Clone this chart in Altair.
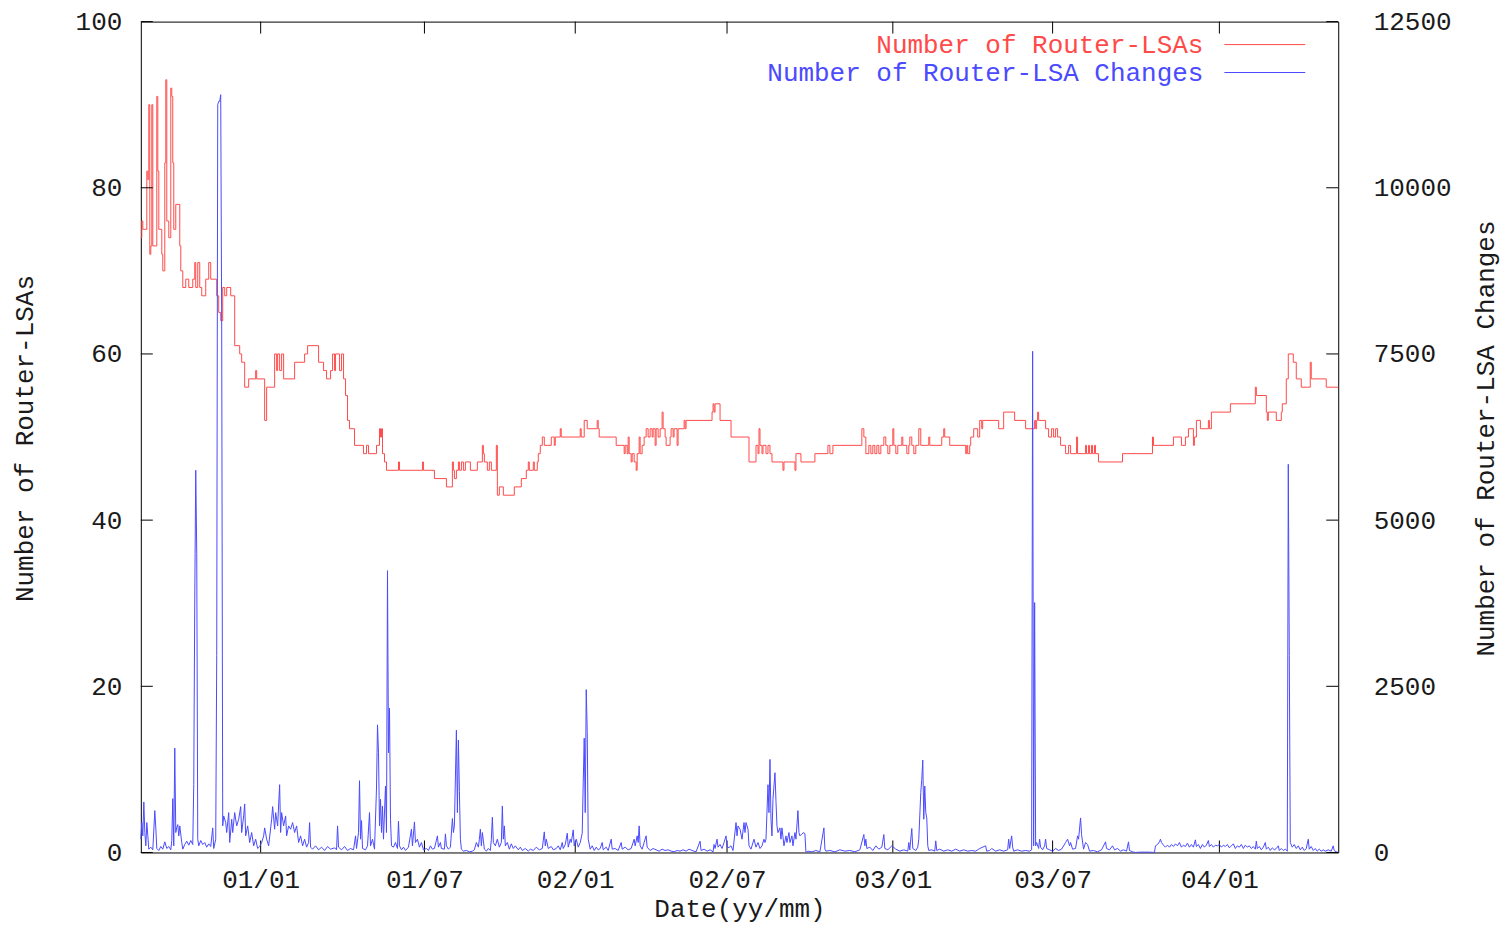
import altair as alt
import pandas as pd

# ---- x axis: sample index over the observation period, with month ticks ----
x_tick_pos = [120, 284, 435, 587, 753, 913, 1080]
x_tick_lab = ["01/01", "01/07", "02/01", "02/07", "03/01", "03/07", "04/01"]
x_max = 1199

y_left_ticks = [0, 20, 40, 60, 80, 100]
y_right_ticks = [0, 2500, 5000, 7500, 10000, 12500]

legend_labels = ["Number of Router-LSAs", "Number of Router-LSA Changes"]

# ---- Number of Router-LSAs (left axis), change points of a step series ----
red_x = [0, 1, 2, 5, 6, 7, 8, 9, 10, 11, 12, 15, 16, 17, 18, 21, 22, 24, 25, 26, 28, 30, 31, 32, 33, 35,
         39, 40, 42, 45, 48, 52, 54, 55, 57, 59, 61, 65, 68, 70, 76, 78, 80, 82, 84, 86, 90, 94, 99, 101,
         104, 108, 115, 116, 124, 126, 134, 136, 137, 139, 141, 143, 154, 164, 167, 178, 183, 186, 190,
         192, 194, 195, 199, 201, 203, 205, 207, 209, 214, 223, 226, 228, 236, 239, 240, 241, 242, 244,
         246, 258, 259, 282, 283, 294, 306, 312, 313, 314, 316, 318, 319, 321, 323, 325, 330, 337, 342,
         343, 344, 347, 349, 351, 356, 357, 359, 363, 374, 381, 386, 388, 389, 393, 394, 397, 398, 400,
         402, 404, 411, 414, 415, 420, 421, 440, 441, 444, 447, 457, 458, 459, 476, 484, 485, 487, 488,
         489, 491, 492, 494, 496, 497, 499, 500, 502, 504, 506, 508, 510, 512, 513, 515, 516, 518, 520,
         522, 523, 525, 526, 530, 531, 533, 534, 537, 538, 544, 545, 546, 572, 573, 574, 575, 580, 591,
         609, 616, 618, 619, 620, 622, 623, 626, 628, 630, 632, 643, 644, 655, 656, 661, 675, 688, 690,
         693, 722, 724, 726, 729, 731, 733, 735, 737, 739, 741, 744, 746, 748, 750, 753, 754, 756, 758,
         762, 763, 767, 769, 770, 772, 774, 776, 779, 781, 789, 790, 802, 804, 805, 810, 826, 827, 828,
         830, 831, 834, 838, 840, 842, 843, 859, 864, 875, 886, 895, 896, 897, 898, 899, 906, 909, 912,
         914, 916, 918, 921, 926, 929, 931, 937, 938, 946, 947, 949, 950, 952, 953, 955, 956, 959, 983,
         1013, 1014, 1034, 1042, 1046, 1049, 1054, 1055, 1057, 1061, 1069, 1070, 1072, 1091, 1116, 1117,
         1127, 1128, 1129, 1137, 1142, 1143, 1147, 1149, 1154, 1157, 1162, 1171, 1172, 1187, 1199]
red_v = [74, 76, 75, 75, 82, 81, 90, 72, 73, 90, 73, 73, 91, 82, 75, 72, 70, 83, 93, 76, 74, 92, 91, 83, 75, 78,
         73, 70, 68, 69, 68, 69, 71, 68, 71, 68, 67, 69, 71, 69, 67, 65, 64, 68, 67, 68, 67, 61, 60, 59,
         56, 57, 58, 57, 52, 56, 60, 58, 60, 58, 60, 57, 59, 60, 61, 59, 58, 57, 58,
         60, 58, 60, 58, 60, 57, 55, 52, 51, 49, 48, 49, 48, 49, 51, 50, 51, 48, 47,
         46, 47, 46, 47, 46, 45, 44, 47, 46, 45, 46, 47, 46, 47, 46, 47, 46, 47, 49,
         48, 47, 46, 47, 46, 49, 43, 44, 43, 44, 45, 46, 47, 46, 47, 46, 47, 48, 49,
         50, 49, 50, 49, 50, 51, 50, 51, 50, 52, 51, 52, 51, 50, 49, 48, 49, 48, 50,
         48, 47, 48, 47, 46, 48, 50, 48, 49, 50, 51, 50, 51, 50, 51, 49, 51, 50, 51,
         53, 51, 50, 49, 50, 51, 50, 51, 49, 51, 52, 51, 52, 53, 54, 53, 54, 52, 50,
         47, 49, 48, 51, 49, 48, 49, 48, 49, 48, 47, 46, 47, 46, 48, 47, 48, 49, 48,
         49, 51, 50, 48, 49, 48, 49, 48, 49, 48, 49, 50, 49, 48, 49, 51, 49, 48, 49,
         50, 49, 48, 49, 50, 49, 48, 49, 51, 49, 50, 49, 50, 51, 50, 49, 48, 49, 48,
         49, 50, 51, 50, 52, 51, 52, 51, 53, 52, 51, 52, 51, 52, 53, 52, 51, 50, 51,
         50, 51, 50, 49, 48, 49, 48, 50, 48, 49, 48, 49, 48, 49, 48, 49, 48, 47, 48,
         50, 49, 50, 49, 50, 51, 49, 50, 52, 51, 52, 51, 53, 54, 56, 55,
         53, 52, 53, 52, 53, 54, 57, 60, 59, 57, 56, 59, 57, 56, 56]

# ---- Number of Router-LSA Changes (right axis) ----
blue_x = [0, 1, 2, 3, 4, 5, 6, 7, 8, 10, 12, 14, 15, 16, 18, 20, 22, 24, 26, 28, 30, 31, 32, 33, 34, 35,
          36, 37, 38, 39, 41, 42, 44, 46, 48, 50, 52, 53, 54, 55, 56, 57, 58, 60, 62, 64, 66, 68, 70, 72,
          73, 75, 76, 77, 78, 79, 80, 81, 82, 83, 85, 86, 88, 89, 91, 92, 94, 96, 98, 100, 101, 103, 104,
          105, 107, 109, 111, 113, 115, 117, 119, 121, 123, 124, 126, 128, 131, 132, 134, 135, 137, 139,
          140, 141, 143, 145, 146, 148, 150, 152, 154, 156, 158, 160, 162, 164, 166, 168, 169, 170, 172,
          175, 178, 181, 184, 187, 190, 194, 196, 197, 198, 201, 204, 207, 210, 213, 215, 216, 218, 219,
          220, 221, 222, 225, 227, 229, 230, 232, 234, 236, 237, 238, 239, 240, 241, 242, 243, 245, 246,
          247, 248, 249, 250, 251, 253, 255, 257, 258, 259, 261, 263, 265, 268, 271, 272, 274, 275, 277,
          279, 281, 283, 286, 288, 290, 292, 294, 297, 298, 300, 301, 304, 305, 306, 308, 310, 312, 313,
          314, 316, 317, 318, 319, 320, 321, 323, 326, 329, 332, 334, 336, 338, 339, 340, 341, 342, 344,
          346, 348, 350, 351, 352, 353, 355, 357, 359, 361, 362, 363, 364, 365, 367, 369, 371, 373, 375,
          378, 380, 382, 385, 388, 390, 393, 396, 399, 402, 404, 405, 406, 408, 411, 413, 416, 418, 420,
          422, 423, 425, 427, 428, 430, 431, 433, 434, 436, 438, 440, 442, 443, 444, 445, 446, 447, 448,
          450, 452, 454, 456, 458, 460, 462, 463, 466, 468, 471, 472, 475, 478, 481, 482, 485, 488, 491,
          494, 495, 497, 498, 499, 500, 502, 504, 506, 507, 510, 513, 516, 519, 522, 525, 528, 531, 534,
          537, 540, 543, 546, 549, 552, 556, 560, 561, 564, 567, 570, 573, 574, 575, 577, 578, 580, 582,
          584, 586, 587, 589, 591, 593, 596, 597, 598, 600, 602, 604, 605, 606, 608, 609, 611, 614, 616,
          618, 620, 622, 624, 625, 626, 628, 629, 630, 631, 632, 633, 635, 636, 637, 638, 640, 641, 642,
          644, 646, 647, 649, 650, 652, 653, 655, 656, 658, 659, 660, 662, 664, 665, 666, 668, 672, 676,
          680, 684, 685, 686, 690, 695, 700, 705, 710, 715, 720, 724, 725, 726, 727, 730, 733, 736, 739,
          742, 744, 745, 748, 752, 756, 760, 764, 768, 769, 770, 772, 773, 776, 778, 779, 781, 782, 783,
          784, 785, 786, 787, 788, 789, 792, 795, 796, 797, 800, 804, 808, 812, 816, 820, 824, 828, 832,
          836, 840, 846, 847, 850, 852, 856, 860, 864, 868, 869, 870, 872, 873, 874, 878, 882, 886, 890,
          892, 893, 894, 895, 896, 897, 899, 900, 901, 903, 905, 906, 907, 910, 913, 916, 919, 922, 926,
          928, 930, 931, 933, 936, 938, 939, 941, 942, 944, 946, 948, 950, 954, 958, 962, 966, 967, 970,
          973, 975, 978, 981, 984, 987, 989, 990, 993, 996, 1000, 1010, 1015, 1016, 1018, 1020, 1021,
          1022, 1024, 1026, 1028, 1030, 1032, 1034, 1036, 1038, 1040, 1042, 1044, 1046, 1048, 1050, 1052,
          1054, 1056, 1057, 1059, 1061, 1063, 1065, 1067, 1069, 1070, 1072, 1074, 1076, 1078, 1080, 1082,
          1084, 1086, 1088, 1090, 1092, 1094, 1096, 1098, 1100, 1102, 1104, 1106, 1108, 1110, 1112, 1114,
          1116, 1117, 1118, 1120, 1122, 1124, 1126, 1127, 1129, 1131, 1133, 1135, 1137, 1139, 1140, 1142,
          1144, 1146, 1148, 1149, 1150, 1151, 1153, 1155, 1157, 1159, 1161, 1163, 1165, 1167, 1169, 1170,
          1172, 1174, 1176, 1178, 1180, 1182, 1184, 1186, 1189, 1192, 1194, 1195, 1197, 1199]
blue_v = [200, 450, 250, 760, 300, 100, 450, 250, 50, 80, 40, 630, 370, 60, 30, 90, 50, 160, 60, 90, 40, 180, 810, 100, 1570, 300,
          380, 420, 250, 400, 150, 50, 120, 170, 110, 180, 120, 1020, 3800, 5750, 4500, 200, 100, 180, 120, 150, 80, 130, 90, 370,
          60, 200, 2960, 11250, 11300, 11300, 11400, 7800, 400, 550, 450, 300, 600, 150, 500, 300, 600, 400, 500, 690, 300, 550, 730,
          250, 400, 150, 300, 100, 200, 60, 90, 150, 250, 370, 200, 100, 500, 690, 350, 600, 400, 1020,
          300, 600, 400, 550, 250, 400, 350, 450, 300, 400, 150, 250, 100, 200, 80, 150, 450, 80, 50,
          100, 40, 80, 30, 90, 50, 70, 40, 400, 80, 40, 90, 30, 60, 40, 250, 60, 300, 1080,
          200, 480, 60, 40, 100, 600, 100, 200, 50, 970, 1920, 1500, 400, 800, 300, 700, 200, 1000, 300,
          4240, 1500, 2170, 500, 100, 80, 150, 60, 470, 100, 40, 80, 30, 80, 350, 100, 460, 150, 200,
          80, 150, 40, 60, 30, 100, 50, 60, 250, 80, 150, 60, 50, 280, 100, 50, 80, 510, 300,
          400, 1840, 600, 1690, 920, 200, 50, 20, 30, 10, 20, 40, 150, 80, 200, 350, 100, 300, 50,
          20, 60, 30, 200, 530, 150, 100, 200, 80, 150, 700, 200, 400, 100, 150, 50, 130, 60, 100,
          40, 80, 30, 60, 20, 50, 30, 80, 40, 60, 310, 100, 200, 60, 90, 40, 60, 100, 40,
          150, 60, 120, 290, 80, 200, 150, 340, 100, 200, 80, 150, 290, 1050, 1720, 600, 2450, 1820, 200,
          50, 100, 30, 80, 40, 60, 150, 40, 80, 30, 200, 50, 60, 30, 150, 50, 80, 40, 60,
          200, 100, 250, 150, 400, 100, 50, 150, 250, 80, 30, 60, 40, 20, 50, 30, 40, 20, 10,
          30, 20, 40, 20, 50, 30, 10, 170, 30, 50, 20, 40, 10, 120, 60, 200, 80, 120, 60,
          150, 250, 80, 75, 100, 30, 450, 250, 400, 350, 200, 450, 300, 450, 350, 100, 50, 200, 80,
          150, 60, 100, 200, 150, 200, 1020, 600, 1400, 500, 250, 800, 1200, 770, 400, 300, 370, 200, 370,
          100, 250, 150, 300, 150, 250, 100, 300, 200, 630, 300, 250, 280, 300, 280, 0, 20, 10, 30,
          10, 370, 50, 20, 30, 10, 40, 20, 30, 10, 40, 270, 100, 200, 60, 80, 30, 100, 50,
          80, 270, 60, 40, 100, 50, 20, 40, 20, 150, 40, 360, 60, 30, 80, 200, 900, 1100, 1390,
          500, 1000, 600, 520, 100, 30, 40, 20, 175, 30, 50, 20, 40, 20, 50, 20, 40, 20, 30,
          20, 60, 100, 20, 30, 60, 20, 40, 20, 40, 200, 60, 250, 80, 20, 40, 20, 30, 20,
          40, 7540, 100, 3760, 100, 150, 60, 200, 80, 40, 100, 200, 60, 40, 20, 60, 30, 50, 150,
          200, 100, 150, 50, 60, 250, 200, 520, 270, 50, 150, 120, 20, 30, 10, 40, 160, 60, 40,
          100, 40, 60, 20, 40, 20, 160, 30, 10, 0, 5, 5, 0, 100, 120, 160, 200,
          150, 110, 80, 110, 80, 120, 90, 130, 100, 150, 80, 110, 90, 140, 80, 120,
          80, 190, 90, 120, 60, 120, 80, 110, 180, 90, 120, 80, 110, 100, 120, 80,
          110, 90, 120, 70, 100, 130, 60, 100, 80, 120, 60, 110, 80, 100, 60, 90,
          50, 170, 60, 90, 40, 80, 150, 50, 80, 30, 70, 40, 60, 100, 30, 60,
          30, 50, 20, 5840, 2960, 150, 80, 120, 60, 100, 40, 80, 30, 60, 200, 50,
          90, 30, 60, 20, 50, 20, 40, 20, 40, 20, 100, 30, 10, 0]

assert len(red_x) == len(red_v), (len(red_x), len(red_v))
assert len(blue_x) == len(blue_v), (len(blue_x), len(blue_v))

# ---- layout / style ----
W, H = 1199, 832
TICK = 12
FONT = "Liberation Mono"
FS = 26
RED = "#ff4a4a"
BLUE = "#4a4aff"
INK = "#1a1a1a"

red_df = pd.DataFrame({"s": red_x, "v": red_v})
blue_df = pd.DataFrame({"s": blue_x, "c": blue_v})
xt_df = pd.DataFrame({"s": x_tick_pos})
ylt_df = pd.DataFrame({"v": y_left_ticks})
yrt_df = pd.DataFrame({"c": y_right_ticks})

label_expr = " : ".join(f"datum.value == {p} ? '{l}'" for p, l in zip(x_tick_pos, x_tick_lab)) + " : ''"

x_scale = alt.Scale(domain=[0, x_max], nice=False, zero=False)
yl_scale = alt.Scale(domain=[0, 100], nice=False)
yr_scale = alt.Scale(domain=[0, 12500], nice=False)

x_axis = alt.Axis(values=x_tick_pos, labelExpr=label_expr, ticks=False, domain=False, grid=False,
                  labelPadding=27, labelBaseline="middle", labelFont=FONT, labelFontSize=FS,
                  labelColor=INK,
                  title="Date(yy/mm)", titleFont=FONT, titleFontSize=FS, titleFontWeight="normal",
                  titleColor=INK, titleY=56, titleBaseline="middle")
yl_axis = alt.Axis(values=y_left_ticks, format="d", ticks=False, domain=False, grid=False,
                   labelPadding=19, labelFont=FONT, labelFontSize=FS, labelColor=INK,
                   title="Number of Router-LSAs", titleFont=FONT, titleFontSize=FS,
                   titleFontWeight="normal", titleColor=INK, titleAngle=270,
                   titleX=-116, titleY=417, titleAlign="center", titleBaseline="middle")
yr_axis = alt.Axis(orient="right", values=y_right_ticks, format="d", ticks=False, domain=False,
                   grid=False, labelPadding=35, labelFont=FONT, labelFontSize=FS, labelColor=INK,
                   title="Number of Router-LSA Changes", titleFont=FONT, titleFontSize=FS,
                   titleFontWeight="normal", titleColor=INK, titleAngle=270,
                   titleX=147, titleY=417, titleAlign="center", titleBaseline="middle")

X = alt.X("s:Q", scale=x_scale, axis=x_axis, title="Date(yy/mm)")

red_line = alt.Chart(red_df).mark_line(interpolate="step-after", color=RED, strokeWidth=1).encode(
    x=X, y=alt.Y("v:Q", scale=yl_scale, axis=yl_axis, title="Number of Router-LSAs"))
left_ticks = alt.Chart(ylt_df).mark_rule(color="black", strokeWidth=1).encode(
    y=alt.Y("v:Q", scale=yl_scale, axis=yl_axis, title="Number of Router-LSAs"),
    x=alt.value(0), x2=alt.value(TICK))
x_ticks_bottom = alt.Chart(xt_df).mark_rule(color="black", strokeWidth=1).encode(
    x=X, y=alt.value(H - TICK), y2=alt.value(H))
x_ticks_top = alt.Chart(xt_df).mark_rule(color="black", strokeWidth=1).encode(
    x=X, y=alt.value(0), y2=alt.value(TICK))

left = alt.layer(red_line, left_ticks, x_ticks_bottom, x_ticks_top)

blue_line = alt.Chart(blue_df).mark_line(color=BLUE, strokeWidth=1).encode(
    x=X, y=alt.Y("c:Q", scale=yr_scale, axis=yr_axis, title="Number of Router-LSA Changes"))
right_ticks = alt.Chart(yrt_df).mark_rule(color="black", strokeWidth=1).encode(
    y=alt.Y("c:Q", scale=yr_scale, axis=yr_axis, title="Number of Router-LSA Changes"),
    x=alt.value(W - TICK), x2=alt.value(W))

right = alt.layer(blue_line, right_ticks)

# ---- legend (top right, gnuplot style) ----
leg_df = pd.DataFrame({"t": legend_labels, "k": [0, 1]})
leg_red_text = alt.Chart(leg_df).transform_filter("datum.k == 0").mark_text(
    align="right", baseline="middle", font=FONT, fontSize=FS, color=RED).encode(
    x=alt.value(1064), y=alt.value(23), text="t:N")
leg_red_line = alt.Chart(leg_df).transform_filter("datum.k == 0").mark_rule(
    color=RED, strokeWidth=1).encode(x=alt.value(1085), x2=alt.value(1166), y=alt.value(23))
leg_blue_text = alt.Chart(leg_df).transform_filter("datum.k == 1").mark_text(
    align="right", baseline="middle", font=FONT, fontSize=FS, color=BLUE).encode(
    x=alt.value(1064), y=alt.value(51), text="t:N")
leg_blue_line = alt.Chart(leg_df).transform_filter("datum.k == 1").mark_rule(
    color=BLUE, strokeWidth=1).encode(x=alt.value(1085), x2=alt.value(1166), y=alt.value(51))

legend = alt.layer(leg_red_text, leg_red_line, leg_blue_text, leg_blue_line)

chart = alt.layer(left, right, legend).resolve_scale(y="independent").properties(
    width=W, height=H,
    autosize=alt.AutoSizeParams(type="none"),
    padding={"left": 133, "top": 13, "right": 165, "bottom": 72},
    background="white",
).configure_view(stroke="black", strokeWidth=1)

chart.save("out.html", embed_options={"renderer": "svg", "actions": False})
